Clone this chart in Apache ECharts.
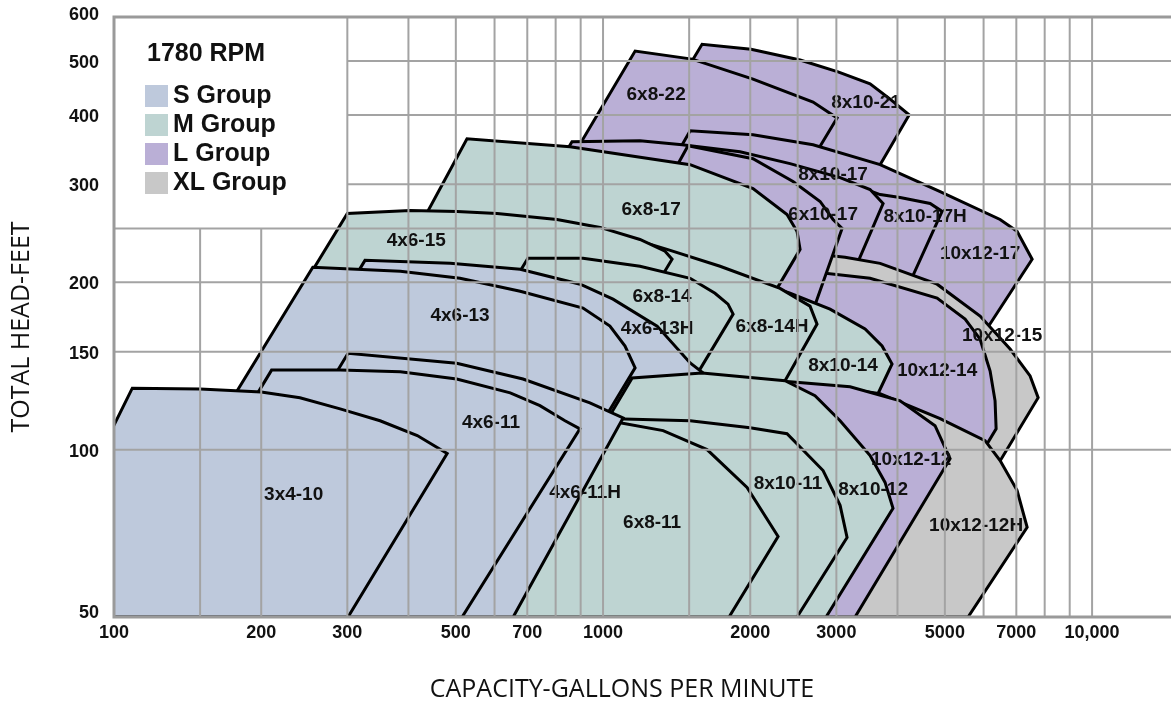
<!DOCTYPE html>
<html>
<head>
<meta charset="utf-8">
<script src="https://cdn.jsdelivr.net/npm/echarts@6/dist/echarts.min.js"></script>
<style>
  html, body { margin: 0; padding: 0; background: #fff; }
  #chart { width: 1171px; height: 703px; }
</style>
</head>
<body>
<div id="chart"></div>
<script>
// axis ticks and grid
var xTicks = [100, 200, 300, 500, 700, 1000, 2000, 3000, 5000, 7000, 10000];
var xTickText = ['100', '200', '300', '500', '700', '1000', '2000', '3000', '5000', '7000', '10,000'];
var xGrid = [150, 200, 300, 400, 500, 600, 700, 800, 900, 1000, 1500, 2000, 2500, 3000,
             4000, 5000, 6000, 7000, 8000, 9000, 10000];
var yTicks = [50, 100, 150, 200, 300, 400, 500, 600];
var yGrid = [100, 150, 200, 250, 300, 400, 500];

var groupNames = ['S Group', 'M Group', 'L Group', 'XL Group'];
var groupColors = ['#bec9dc', '#bed4d2', '#baafd6', '#c8c8c8'];

// pump ranges, back to front. outline points are [gpm, feet]
var pumpNames = ['8x10-21', '6x8-22', '10x12-17', '8x10-17H', '8x10-17', '10x12-15', '10x12-14',
  '6x10-17', '6x8-17', '8x10-14', '10x12-12H', '10x12-12', '6x8-14H', '4x6-15', '6x8-14',
  '4x6-13H', '4x6-13', '8x10-12', '8x10-11', '6x8-11', '4x6-11H', '4x6-11', '3x4-10'];
var pumpGroup = [2, 2, 2, 2, 2, 3, 2, 2, 1, 1, 3, 2, 1, 1, 1, 0, 0, 1, 1, 1, 0, 0, 0];
var pumpLabelAt = [[3450, 420], [1284, 434], [5902, 225], [4556, 262.7], [2953, 312], [6546, 160],
  [4820, 138.5], [2818, 265], [1254, 270], [3096, 141.4], [5792, 73.1], [4266, 96], [2216, 166],
  [415, 238], [1320, 188], [1290, 164.8], [510, 174], [3566, 84.8], [2389, 86.9], [1260, 74],
  [919, 83.7], [590, 111.8], [233, 83.1]];
var pumpOutline = [
  [[314, 50], [1594, 536], [2007, 525], [2529, 502], [3024, 478], [3516, 455], [3864, 427], [4226, 400], [3686, 325.5], [1068, 50]],
  [[240, 50], [1163, 521], [1521, 504], [2026, 464], [2688, 422], [3010, 395], [733, 50]],
  [[407, 50], [1507, 374.5], [2026, 368.4], [2688, 353.5], [3686, 325.5], [4890, 291], [6485, 259.4], [7024, 247], [7541, 220], [2517, 50]],
  [[449, 50], [1507, 343.5], [2301, 322.8], [3200, 301], [3686, 287.6], [4050, 284], [4665, 277.1], [4935, 268.2], [2075, 50]],
  [[225, 50], [864, 357.9], [1190, 359.4], [1451, 353.5], [1906, 343.5], [2412, 326.9], [3053, 308.5], [3516, 293.6], [3738, 277.1], [1617, 50]],
  [[897, 50], [2412, 227.4], [3125, 221.8], [3686, 216.3], [4820, 198.4], [5902, 173.9], [6798, 151.7], [7469, 135.7], [7757, 124], [4166, 50]],
  [[906, 50], [2412, 211], [3516, 203.3], [4820, 187.3], [5500, 171.7], [5902, 158], [6187, 138.5], [6333, 122.4], [6365, 109], [3738, 50]],
  [[439, 50], [1492, 352.1], [2026, 333.7], [2446, 303.5], [2779, 279.5], [2953, 259.4], [3082, 250], [2739, 186.5], [1617, 50]],
  [[156, 50], [527, 362.4], [856, 350.6], [1507, 325.5], [2026, 294.9], [2378, 264.8], [2493, 246.9], [2529, 229.2], [2269, 195], [893, 50]],
  [[587, 50], [1579, 211.1], [2095, 199.3], [2412, 191.1], [2912, 178.9], [3434, 164.8], [3720, 153.6], [3899, 142.6], [3633, 125], [1906, 50]],
  [[790, 50], [1906, 133], [2529, 130.8], [3354, 127.6], [3686, 126], [4890, 113.7], [6042, 103.8], [6485, 95.6], [7024, 84.5], [7366, 72.5], [5578, 50]],
  [[972, 50], [1906, 134], [2412, 132.4], [3200, 129.7], [4050, 122.4], [4774, 110.4], [5124, 96.3], [3276, 50]],
  [[329, 50], [986, 248.9], [1190, 237], [1352, 229.2], [1735, 213.7], [2301, 195], [2650, 181.2], [2739, 168.2], [2356, 133], [1196, 50]],
  [[94, 50], [300, 266], [403, 269.2], [503, 268.2], [607, 266], [805, 259.4], [986, 251], [1190, 238.8], [1339, 227.4], [1384, 220], [502, 50]],
  [[254, 50], [702, 220.9], [910, 220.9], [1190, 213.7], [1507, 203.3], [1694, 191.1], [1801, 182.7], [1845, 175.3], [783, 50]],
  [[118.5, 50], [326, 219], [487, 216.3], [677, 211.1], [898, 198.4], [1048, 186.5], [1290, 166.8], [1507, 143.2], [1601, 137.4], [805, 50]],
  [[93, 50], [255, 212.8], [385, 209.4], [510, 203.3], [677, 192.7], [910, 179.7], [1033, 166.8], [1109, 153.6], [1163, 140.3], [574, 50]],
  [[587, 50], [1147, 134.6], [1594, 137.4], [2356, 133], [2713, 125], [3053, 112.7], [3516, 97.6], [3773, 87.3], [3917, 78.4], [2858, 50]],
  [[609, 50], [1058, 113.6], [1507, 112.7], [1998, 109.5], [2378, 106.8], [2818, 91.7], [3053, 79.4], [3155, 69.5], [2493, 50]],
  [[466, 50], [817, 113.6], [1083, 111.8], [1327, 108.2], [1632, 100], [1970, 85.5], [2280, 69.8], [1810, 50]],
  [[142, 50], [301, 149], [502, 143], [686, 134], [940, 121.4], [1099, 114], [655, 50]],
  [[104, 50], [210, 139], [290, 139], [385, 138], [502, 134], [646, 126.5], [743, 120], [836, 112.7], [897, 109], [515, 50]],
  [[64, 50], [109, 129], [150, 128.6], [200, 127], [240, 124], [290, 118.4], [350, 112.7], [417, 106], [480, 98.4], [301, 50]]
];

var xMin = 100, xMax = 14500, yMin = 50, yMax = 600;
var legendCorner = [300, 250]; // grid lines stay out of the legend box

var chart = echarts.init(document.getElementById('chart'));

function renderPump(params, api) {
  var i = params.dataIndex;
  var pts = pumpOutline[i].map(function (p) { return api.coord(p); });
  return {
    type: 'polygon',
    shape: { points: pts },
    style: { fill: groupColors[pumpGroup[i]], stroke: '#000', lineWidth: 3, lineJoin: 'miter' }
  };
}

function renderLabel(params, api) {
  var i = params.dataIndex;
  var p = api.coord(pumpLabelAt[i]);
  return {
    type: 'text', x: p[0], y: p[1],
    style: { text: pumpNames[i], fill: '#111', font: 'bold 19px "Liberation Sans", Arial, sans-serif',
             align: 'center', verticalAlign: 'middle' }
  };
}

function renderGrid(params, api) {
  var i = params.dataIndex, a, b;
  if (i < xGrid.length) {
    var v = xGrid[i];
    a = api.coord([v, yMin]);
    b = api.coord([v, v < legendCorner[0] ? legendCorner[1] : yMax]);
  } else {
    var h = yGrid[i - xGrid.length];
    a = api.coord([h > legendCorner[1] ? legendCorner[0] : xMin, h]);
    b = api.coord([xMax, h]);
  }
  return {
    type: 'line', shape: { x1: a[0], y1: a[1], x2: b[0], y2: b[1] },
    style: { stroke: '#a3a3a3', lineWidth: 2, blend: 'darken' }
  };
}

function renderFrame(params, api) {
  var tl = api.coord([xMin, yMax]), bl = api.coord([xMin, yMin]), tr = api.coord([xMax, yMax]), br = api.coord([xMax, yMin]);
  var kids = [
    { type: 'polyline', shape: { points: [[tr[0] + 5, tr[1]], tl, bl, [br[0] + 5, br[1]]] },
      style: { stroke: '#9a9a9a', lineWidth: 3, fill: null } }
  ];
  var font = 'bold 18px "Liberation Sans", Arial, sans-serif';
  xTicks.forEach(function (v, k) {
    var p = api.coord([v, yMin]);
    kids.push({ type: 'text', x: p[0], y: p[1] + 16,
      style: { text: xTickText[k], fill: '#111', font: font, align: 'center', verticalAlign: 'middle' } });
  });
  yTicks.forEach(function (v) {
    var p = api.coord([xMin, v]);
    var dy = v === yMax ? -2 : (v === yMin ? -4 : 2);
    kids.push({ type: 'text', x: p[0] - 15, y: p[1] + dy,
      style: { text: String(v), fill: '#111', font: font, align: 'right', verticalAlign: 'middle' } });
  });
  return { type: 'group', children: kids };
}

var gridData = xGrid.map(function (v) { return [v, 100]; })
  .concat(yGrid.map(function (h) { return [1000, h]; }));

var series = [
  { type: 'custom', name: 'pumps', z: 2, clip: true, renderItem: renderPump, data: pumpLabelAt, silent: true },
  { type: 'custom', name: 'labels', z: 3, clip: false, renderItem: renderLabel, data: pumpLabelAt, silent: true },
  { type: 'custom', name: 'grid', z: 4, clip: true, renderItem: renderGrid, data: gridData, silent: true },
  { type: 'custom', name: 'frame', z: 5, clip: false, renderItem: renderFrame, data: [[xMin, yMin]], silent: true }
];
groupNames.forEach(function (g, k) {
  series.push({ type: 'custom', name: g, data: [], itemStyle: { color: groupColors[k] },
    renderItem: function () { return null; } });
});

chart.setOption({
  animation: false,
  backgroundColor: '#fff',
  title: {
    text: '1780 RPM', left: 142, top: 37,
    textStyle: { fontSize: 25, fontWeight: 'bold', color: '#111', fontFamily: '"Liberation Sans", Arial, sans-serif' }
  },
  legend: {
    data: groupNames, orient: 'vertical', left: 140, top: 78, icon: 'rect',
    itemWidth: 23, itemHeight: 22, itemGap: 3, selectedMode: false,
    textStyle: { fontSize: 25, fontWeight: 'bold', color: '#111', lineHeight: 26,
                 fontFamily: '"Liberation Sans", Arial, sans-serif' }
  },
  grid: { left: 114, top: 17, right: 0, height: 600 },
  xAxis: {
    type: 'log', logBase: 10, min: xMin, max: xMax,
    axisLine: { show: false }, axisTick: { show: false }, axisLabel: { show: false }, splitLine: { show: false }
  },
  yAxis: {
    type: 'log', logBase: 10, min: yMin, max: yMax,
    axisLine: { show: false }, axisTick: { show: false }, axisLabel: { show: false }, splitLine: { show: false }
  },
  graphic: [
    { type: 'text', x: 22, y: 327, rotation: Math.PI / 2,
      style: { text: 'TOTAL HEAD-FEET', fill: '#111', font: '25px "Open Sans", sans-serif', align: 'center', verticalAlign: 'middle' } },
    { type: 'text', x: 622, y: 690,
      style: { text: 'CAPACITY-GALLONS PER MINUTE', fill: '#111', font: '25px "Open Sans", sans-serif', align: 'center', verticalAlign: 'middle' } }
  ],
  series: series
});
</script>
</body>
</html>
